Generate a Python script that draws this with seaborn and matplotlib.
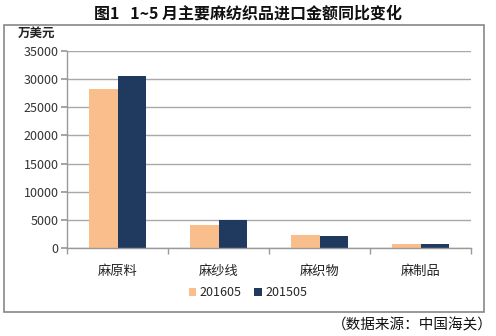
import matplotlib
matplotlib.use("Agg")
import matplotlib.pyplot as plt
import seaborn as sns
import pandas as pd
from matplotlib.patches import Rectangle, Patch
from matplotlib.ticker import FixedLocator

categories = ["麻原料", "麻纱线", "麻织物", "麻制品"]
series_names = ["201605", "201505"]
values_201605 = [28300, 4100, 2350, 750]
values_201505 = [30600, 4900, 2150, 780]
yticks = [0, 5000, 10000, 15000, 20000, 25000, 30000, 35000]
colors = ["#F9BE8B", "#1F3A5E"]

sns.set_theme(style="white")
plt.rcParams['font.family'] = ['Noto Sans CJK SC', 'DejaVu Sans']

df = pd.DataFrame({
    "cat": categories * 2,
    "year": [series_names[0]] * 4 + [series_names[1]] * 4,
    "val": values_201605 + values_201505,
})

fig = plt.figure(figsize=(4.96, 3.36), dpi=100)
fig.patch.set_facecolor("white")
ax = fig.add_axes([67/496, 1-248/336, (471-67)/496, (248-51)/336])

sns.barplot(data=df, x="cat", y="val", hue="year", order=categories,
            hue_order=series_names, palette=colors, width=0.57, gap=0,
            saturation=1, ax=ax, legend=False, errorbar=None, linewidth=0)

ax.set_xlim(-0.5, 3.5)
ax.set_ylim(0, 35000)
ax.set_yticks(yticks)
ax.set_yticklabels([str(v) for v in yticks], fontsize=9, color="#333333")
ax.set_xticks(range(len(categories)))
ax.set_xticklabels(categories, fontsize=9.5, color="#222222")
ax.xaxis.set_minor_locator(FixedLocator([-0.5, 0.5, 1.5, 2.5, 3.5]))
ax.tick_params(axis="x", which="major", length=0, pad=12)
ax.tick_params(axis="x", which="minor", length=4, color="#999999", direction="out", bottom=True)
ax.tick_params(axis="y", length=4, color="#999999", direction="out", left=True, pad=2)
ax.set_xlabel("")
ax.set_ylabel("")
ax.grid(axis="y", color="#A8A8A8", linewidth=1)
ax.set_axisbelow(True)
for s in ["top", "right"]:
    ax.spines[s].set_visible(False)
for s in ["left", "bottom"]:
    ax.spines[s].set_color("#999999")
    ax.spines[s].set_linewidth(1)

# outer frame
fig.add_artist(Rectangle((4/496, 1-312/336), 480/496, (312-25)/336,
                         transform=fig.transFigure, fill=False,
                         edgecolor="#888888", linewidth=1.2))

fig.text(0.5, 1-14/336, "图1   1~5 月主要麻纺织品进口金额同比变化", ha="center",
         va="center", fontsize=11.5, fontweight="bold", color="#111111")
fig.text(18/496, 1-33/336, "万美元", ha="left", va="center", fontsize=9,
         fontweight="bold", color="#222222")

handles = [Patch(facecolor=c, edgecolor="none") for c in colors]
fig.legend(handles, series_names, loc="center", bbox_to_anchor=(248/496, 1-293/336),
           ncol=2, frameon=False, fontsize=9, handlelength=0.6, handleheight=0.6,
           handletextpad=0.3, columnspacing=1.0)

fig.text(493/496, 1-325/336, "（数据来源：中国海关）", ha="right", va="center",
         fontsize=10.5, color="#111111")

fig.savefig("out.png", dpi=100)
